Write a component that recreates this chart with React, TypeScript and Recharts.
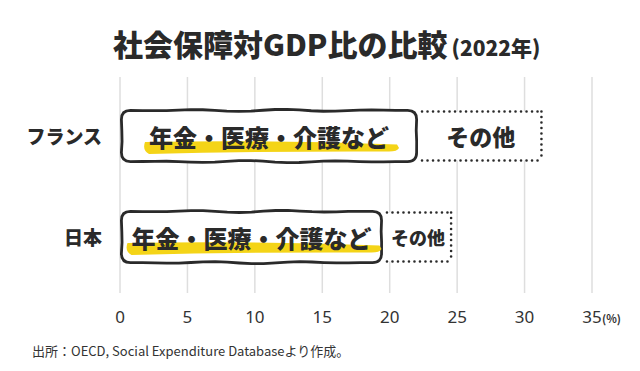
import React from 'react';
import { BarChart, Bar, XAxis, YAxis, CartesianGrid } from 'recharts';

const categories = ['フランス', '日本'];
const coreValues = [22.1, 19.5];
const otherValues = [9.3, 5.2];
const coreLabel = '年金・医療・介護など';
const otherLabel = 'その他';
const xTicks = [0, 5, 10, 15, 20, 25, 30, 35];
const titleMain = '社会保障対GDP比の比較';
const titleSub = '(2022年)';
const unitLabel = '(%)';
const sourceNote = '出所：OECD, Social Expenditure Databaseより作成。';

const data = categories.map((name, i) => ({ name, core: coreValues[i], other: otherValues[i] }));

const JP = '"Noto Sans CJK JP", "Noto Sans", sans-serif';
const INK = '#2a2a2a';

function seg(x1: number, y1: number, x2: number, y2: number, phase: number, amp: number) {
  const len = Math.hypot(x2 - x1, y2 - y1) || 1;
  const n = Math.max(2, Math.round(len / 12));
  const nx = -(y2 - y1) / len;
  const ny = (x2 - x1) / len;
  let d = '';
  for (let i = 1; i <= n; i++) {
    const t = i / n;
    const off = i === n ? 0 : amp * Math.sin((t * len) / 45 * Math.PI + phase) * Math.sin(t * Math.PI);
    d += ` L ${(x1 + (x2 - x1) * t + nx * off).toFixed(2)} ${(y1 + (y2 - y1) * t + ny * off).toFixed(2)}`;
  }
  return d;
}

function wobblyRect(x: number, y: number, w: number, h: number, r: number) {
  const a = 1.1;
  let d = `M ${x + r} ${y}`;
  d += seg(x + r, y, x + w - r, y, 0.3, a);
  d += ` Q ${x + w} ${y} ${x + w} ${y + r}`;
  d += seg(x + w, y + r, x + w, y + h - r, 1.7, a * 0.7);
  d += ` Q ${x + w} ${y + h} ${x + w - r} ${y + h}`;
  d += seg(x + w - r, y + h, x + r, y + h, 2.9, a);
  d += ` Q ${x} ${y + h} ${x} ${y + h - r}`;
  d += seg(x, y + h - r, x, y + r, 0.9, a * 0.7);
  d += ` Q ${x} ${y} ${x + r} ${y} Z`;
  return d;
}

const CoreShape = (props: any) => {
  const { x, y, width, height } = props;
  const cx = x + width / 2;
  const cy = y + height / 2;
  const fs = 24;
  const tw = coreLabel.length * fs;
  const hx1 = cx - tw / 2 - 4;
  const hx2 = cx + tw / 2 + 8;
  const hl = `M ${hx1} ${cy + 6} Q ${cx} ${cy + 3.5} ${hx2} ${cy + 8.5} L ${hx2 + 2} ${cy + 12} Q ${hx2} ${cy + 16} ${hx2 - 10} ${cy + 15.5} Q ${cx} ${cy + 15} ${hx1 + 4} ${cy + 18} Q ${hx1 - 3} ${cy + 14} ${hx1} ${cy + 6} Z`;
  return (
    <g>
      <path d={wobblyRect(x + 1.4, y + 1.4, width - 2.8, height - 2.8, 9)} fill="#fff" stroke={INK} strokeWidth={2.8} strokeLinejoin="round" />
      <path d={hl} fill="#f4d417" />
      <text x={cx} y={cy} textAnchor="middle" dominantBaseline="central" fontFamily={JP} fontWeight={900} fontSize={fs} fill={INK}>
        {coreLabel}
      </text>
    </g>
  );
};

const OtherShape = (props: any) => {
  const { x, y, width, height } = props;
  const fs = width > 100 ? 23 : 18;
  const top = y + 2.5;
  const bot = y + height - 2.5;
  const right = x + width - 2;
  const dotted = { stroke: INK, strokeWidth: 2.6, strokeDasharray: '0 5.5', strokeLinecap: 'round' as const, fill: 'none' };
  return (
    <g>
      <rect x={x} y={top} width={right - x} height={bot - top} fill="#fff" />
      <line x1={x + 4} y1={top} x2={right} y2={top} {...dotted} />
      <line x1={right} y1={top} x2={right} y2={bot} {...dotted} />
      <line x1={x + 4} y1={bot} x2={right} y2={bot} {...dotted} />
      <text x={x + width / 2} y={y + height / 2} textAnchor="middle" dominantBaseline="central" fontFamily={JP} fontWeight={900} fontSize={fs} fill={INK}>
        {otherLabel}
      </text>
    </g>
  );
};

const XTick = (props: any) => {
  const { x, y, payload } = props;
  const isLast = payload.value === xTicks[xTicks.length - 1];
  return (
    <g>
      <text x={x} y={y + 22} textAnchor="middle" fontFamily='"Noto Sans", sans-serif' fontSize={17} fill="#333">
        {payload.value}
      </text>
      {isLast && (
        <text x={x + 10} y={y + 22} textAnchor="start" fontFamily={JP} fontWeight={700} fontSize={11} fill="#333">
          {unitLabel}
        </text>
      )}
    </g>
  );
};

const YTick = (props: any) => {
  const { x, y, payload } = props;
  return (
    <text x={x} y={y} textAnchor="end" dominantBaseline="central" fontFamily={JP} fontWeight={900} fontSize={19} fill={INK}>
      {payload.value}
    </text>
  );
};

export default function App() {
  return (
    <div style={{ position: 'absolute', left: 0, top: 0, width: 640, height: 371, background: '#fff' }}>
      <BarChart width={640} height={371} data={data} layout="vertical" margin={{ top: 77, right: 48, bottom: 48, left: 20 }}>
        <CartesianGrid horizontal={false} vertical stroke="#dedede" strokeWidth={1.5} />
        <XAxis type="number" domain={[0, 35]} ticks={xTicks} axisLine={false} tickLine={false} height={30} tick={<XTick />} interval={0} />
        <YAxis type="category" dataKey="name" axisLine={false} tickLine={false} width={100} tickSize={0} tickMargin={18} padding={{ top: 8, bottom: 6 }} tick={<YTick />} />
        <Bar dataKey="core" stackId="a" barSize={54} shape={<CoreShape />} isAnimationActive={false} />
        <Bar dataKey="other" stackId="a" barSize={54} shape={<OtherShape />} isAnimationActive={false} />
      </BarChart>
      <svg width={640} height={371} style={{ position: 'absolute', left: 0, top: 0, pointerEvents: 'none' }}>
        <text x={113} y={56} fontFamily={JP} fontWeight={900} fill={INK}>
          <tspan fontSize={30}>{titleMain}</tspan>
          <tspan fontSize={21} dx={4}>{titleSub}</tspan>
        </text>
        <text x={32} y={356} fontFamily={JP} fontSize={13} fill="#333">
          {sourceNote}
        </text>
      </svg>
    </div>
  );
}
